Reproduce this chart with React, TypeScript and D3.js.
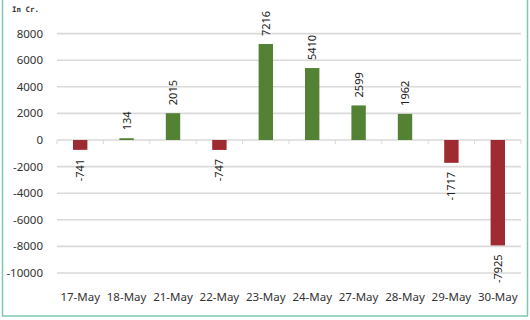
import React from "react";
import * as d3 from "d3";

const categories = ["17-May", "18-May", "21-May", "22-May", "23-May", "24-May", "27-May", "28-May", "29-May", "30-May"];
const values = [-741, 134, 2015, -747, 7216, 5410, 2599, 1962, -1717, -7925];
const yTicks = [8000, 6000, 4000, 2000, 0, -2000, -4000, -6000, -8000, -10000];

const W = 530, H = 320;
const left = 57, right = 521;

export default function App() {
  const x = d3.scaleBand<string>().domain(categories).range([left, right]).paddingInner(0.69).paddingOuter(0.345);
  const y = d3.scaleLinear().domain([-10000, 8000]).range([273, 33.6]);
  const step = x.step();
  const font = "'Noto Sans', sans-serif";
  return (
    <svg width={W} height={H} style={{ position: "absolute", left: 0, top: 0, background: "#fff" }}>
      <rect x={0} y={0} width={W} height={H} fill="#fff" />
      {yTicks.map((t) => (
        <g key={t}>
          <line x1={left} x2={right} y1={y(t)} y2={y(t)} stroke="#d9d9d9" strokeWidth={1.6} />
          <text x={43} y={y(t) + 4} textAnchor="end" fontFamily={font} fontSize={11.5} fill="#333">{t}</text>
        </g>
      ))}
      {d3.range(categories.length + 1).map((i) => (
        <line key={i} x1={left + i * step} x2={left + i * step} y1={y(0)} y2={y(0) + 4} stroke="#d9d9d9" strokeWidth={1} />
      ))}
      {categories.map((c, i) => {
        const v = values[i];
        const y0 = y(0), y1 = y(v);
        const cx = (x(c) as number) + x.bandwidth() / 2;
        const pos = v >= 0;
        const ly = pos ? y1 - 8 : y1 + 9;
        return (
          <g key={c}>
            <rect x={x(c)} y={Math.min(y0, y1)} width={x.bandwidth()} height={Math.max(1.5, Math.abs(y1 - y0))} fill={pos ? "#548235" : "#9e2a32"} />
            <text transform={`translate(${cx + 4},${ly}) rotate(-90)`} textAnchor={pos ? "start" : "end"} fontFamily={font} fontSize={11} fill="#222">{v}</text>
            <text x={cx} y={301} textAnchor="middle" fontFamily={font} fontSize={11.5} fill="#333">{c}</text>
          </g>
        );
      })}
      <text x={12} y={12} fontFamily="'DejaVu Sans Mono', monospace" fontWeight="bold" fontSize={7.5} fill="#333">In Cr.</text>
      <line x1={2.5} x2={2.5} y1={0} y2={316} stroke="#7cc9b0" strokeWidth={1.5} />
      <line x1={527.5} x2={527.5} y1={0} y2={316} stroke="#7cc9b0" strokeWidth={1.5} />
      <line x1={2} x2={528} y1={316} y2={316} stroke="#7cc9b0" strokeWidth={1.5} />
    </svg>
  );
}
